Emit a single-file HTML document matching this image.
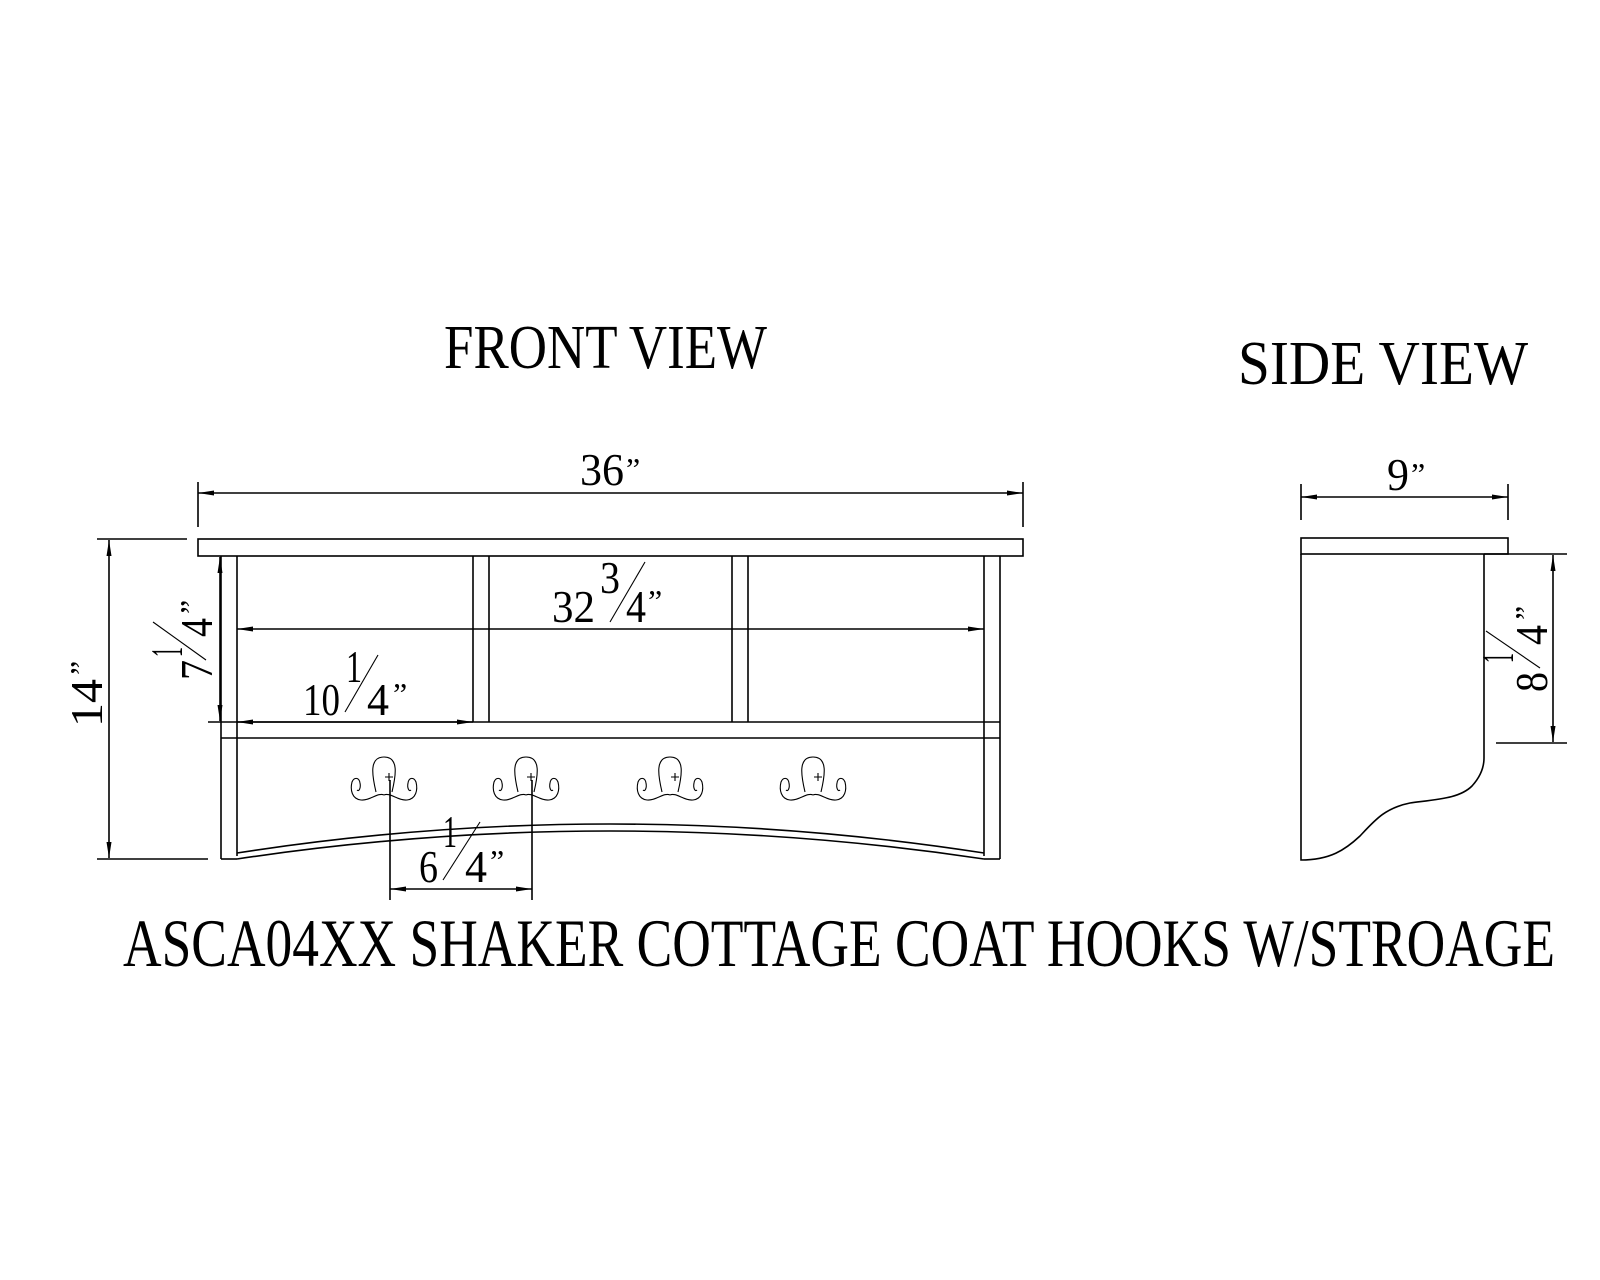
<!DOCTYPE html>
<html><head><meta charset="utf-8"><style>
html,body{margin:0;padding:0;background:#fff;}
svg{display:block;}
text{font-family:"Liberation Serif",serif;fill:#000;}
.d{font-size:46px;}
.q{font-size:32px;}
</style></head><body>
<svg width="1600" height="1280" viewBox="0 0 1600 1280" xmlns="http://www.w3.org/2000/svg">
<defs>
<marker id="a" viewBox="0 0 16 6" refX="16" refY="3" markerWidth="16" markerHeight="6" markerUnits="userSpaceOnUse" orient="auto-start-reverse">
<path d="M0,0.5 L16,3 L0,5.5 Z" fill="#000"/>
</marker>
</defs>
<g stroke="#000" stroke-width="1.6" fill="none">
<rect x="198" y="539" width="825" height="17"/>
<line x1="221" y1="556" x2="221" y2="859"/>
<line x1="237" y1="556" x2="237" y2="856"/>
<line x1="221" y1="859" x2="237" y2="859"/>
<line x1="984" y1="556" x2="984" y2="856"/>
<line x1="1000" y1="556" x2="1000" y2="859"/>
<line x1="984" y1="859" x2="1000" y2="859"/>
<line x1="473" y1="556" x2="473" y2="722"/>
<line x1="489" y1="556" x2="489" y2="722"/>
<line x1="732" y1="556" x2="732" y2="722"/>
<line x1="748" y1="556" x2="748" y2="722"/>
<line x1="208" y1="722" x2="1000" y2="722"/>
<line x1="221" y1="738" x2="1000" y2="738"/>
<path d="M237,853 Q610,795 984,853"/>
<path d="M237,859 Q610,803 984,859"/>
<line x1="198" y1="482" x2="198" y2="527"/>
<line x1="1023" y1="482" x2="1023" y2="527"/>
<line x1="198" y1="493" x2="1023" y2="493" marker-start="url(#a)" marker-end="url(#a)"/>
<line x1="97" y1="539" x2="187" y2="539"/>
<line x1="97" y1="859" x2="208" y2="859"/>
<line x1="109" y1="540" x2="109" y2="858" marker-start="url(#a)" marker-end="url(#a)"/>
<line x1="220" y1="557" x2="220" y2="721" marker-start="url(#a)" marker-end="url(#a)"/>
<line x1="237" y1="629" x2="984" y2="629" marker-start="url(#a)" marker-end="url(#a)"/>
<line x1="237" y1="722" x2="473" y2="722" marker-start="url(#a)" marker-end="url(#a)"/>
<line x1="390" y1="780" x2="390" y2="900"/>
<line x1="532" y1="780" x2="532" y2="900"/>
<line x1="390" y1="889" x2="532" y2="889" marker-start="url(#a)" marker-end="url(#a)"/>
<rect x="1301" y="538" width="207" height="16"/>
<path d="M1301,554 L1301,860 C1330,860 1345,850 1360,836 C1375,820 1385,808 1410,803 C1440,799 1460,798 1472,786 C1482,775 1484,765 1484,758 L1484,554"/>
<line x1="1484" y1="554" x2="1567" y2="554"/>
<line x1="1496" y1="743" x2="1567" y2="743"/>
<line x1="1553" y1="555" x2="1553" y2="742" marker-start="url(#a)" marker-end="url(#a)"/>
<line x1="1301" y1="484" x2="1301" y2="520"/>
<line x1="1508" y1="484" x2="1508" y2="520"/>
<line x1="1301" y1="497" x2="1508" y2="497" marker-start="url(#a)" marker-end="url(#a)"/>
</g>
<g stroke="#000" stroke-width="1.1" fill="none">
<g id="h">
<path d="M376,792 C372,775 369,757 384,757 C399,757 396,775 392,792"/>
<path d="M384,795 C378,792 370,801 361,800 C352,799 350,790 352,782 C354,777 359,777 360,783 C361,788 359,792 357,790"/>
<path d="M384,795 C390,792 398,801 407,800 C416,799 418,790 416,782 C414,777 409,777 408,783 C407,788 409,792 411,790"/>
<path d="M385,777 h8 M389,773 v8"/>
</g>
<use href="#h" x="142"/>
<use href="#h" x="286"/>
<use href="#h" x="429"/>
</g>
<g stroke="#000" stroke-width="1.1">
<line x1="378" y1="655" x2="345" y2="712"/>
<line x1="645" y1="562" x2="610" y2="622"/>
<line x1="480" y1="822" x2="443" y2="880"/>
<line x1="153" y1="622" x2="206" y2="660"/>
<line x1="1486" y1="631" x2="1540" y2="668"/>
</g>
<text x="444" y="368" font-size="62" textLength="323" lengthAdjust="spacingAndGlyphs">FRONT VIEW</text>
<text x="1238" y="384" font-size="62" textLength="290" lengthAdjust="spacingAndGlyphs">SIDE VIEW</text>
<text x="123" y="966" font-size="68" textLength="1432" lengthAdjust="spacingAndGlyphs">ASCA04XX SHAKER COTTAGE COAT HOOKS W/STROAGE</text>
<text class="d" x="580" y="485" textLength="44" lengthAdjust="spacingAndGlyphs">36</text>
<text class="q" x="626" y="480">”</text>
<text class="d" x="1387" y="490" textLength="22" lengthAdjust="spacingAndGlyphs">9</text>
<text class="q" x="1411" y="485">”</text>
<text class="d" x="552" y="622" textLength="43" lengthAdjust="spacingAndGlyphs">32</text>
<text class="d" x="600" y="593" textLength="20" lengthAdjust="spacingAndGlyphs">3</text>
<text class="d" x="626" y="622" textLength="20" lengthAdjust="spacingAndGlyphs">4</text>
<text class="q" x="648" y="612">”</text>
<text class="d" x="303" y="715" textLength="37" lengthAdjust="spacingAndGlyphs">10</text>
<text class="d" x="346" y="682" textLength="16" lengthAdjust="spacingAndGlyphs">1</text>
<text class="d" x="367" y="715" textLength="22" lengthAdjust="spacingAndGlyphs">4</text>
<text class="q" x="393" y="705">”</text>
<text class="d" x="419" y="882" textLength="19" lengthAdjust="spacingAndGlyphs">6</text>
<text class="d" x="443" y="847" textLength="14" lengthAdjust="spacingAndGlyphs">1</text>
<text class="d" x="465" y="882" textLength="22" lengthAdjust="spacingAndGlyphs">4</text>
<text class="q" x="490" y="872">”</text>
<g transform="translate(102,727) rotate(-90)">
<text class="d" x="0" y="0" textLength="48" lengthAdjust="spacingAndGlyphs">14</text>
<text class="q" x="52" y="-10">”</text>
</g>
<g transform="translate(212,680) rotate(-90)">
<text class="d" x="0" y="0" textLength="20" lengthAdjust="spacingAndGlyphs">7</text>
<text class="d" x="23" y="-30" textLength="10" lengthAdjust="spacingAndGlyphs">1</text>
<text class="d" x="43" y="0" textLength="19" lengthAdjust="spacingAndGlyphs">4</text>
<text class="q" x="66" y="-10">”</text>
</g>
<g transform="translate(1547,692) rotate(-90)">
<text class="d" x="0" y="0" textLength="20" lengthAdjust="spacingAndGlyphs">8</text>
<text class="d" x="29" y="-34" textLength="10" lengthAdjust="spacingAndGlyphs">1</text>
<text class="d" x="47" y="0" textLength="20" lengthAdjust="spacingAndGlyphs">4</text>
<text class="q" x="72" y="-10">”</text>
</g>
</svg>
</body></html>
